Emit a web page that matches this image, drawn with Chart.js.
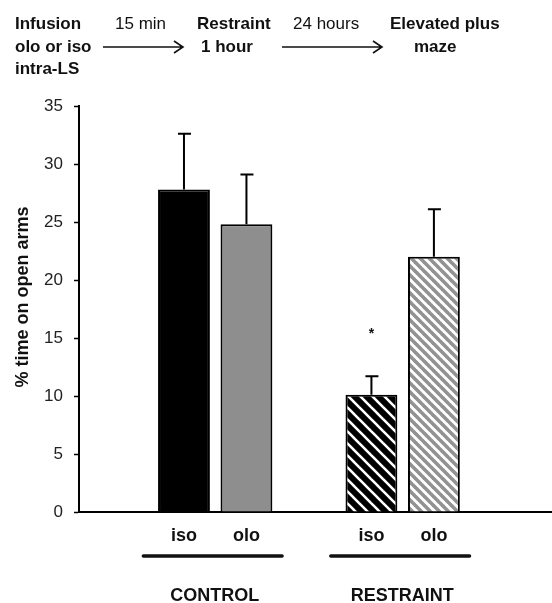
<!DOCTYPE html>
<html>
<head>
<meta charset="utf-8">
<script src="https://cdn.jsdelivr.net/npm/chart.js@4"></script>
<style>
html, body { margin: 0; padding: 0; background: #fff; }
#wrap { position: relative; width: 552px; height: 603px; }
</style>
</head>
<body>
<div id="wrap"><canvas id="canvas"></canvas></div>
<script>
// data
var labels = ['iso', 'olo', 'iso', 'olo'];
var xPos = [1, 2, 4, 5];
var means = [27.8, 24.8, 10.1, 22.0];
var sems = [4.8, 4.3, 1.6, 4.1];
var marks = ['', '', '*', ''];
var groups = ['CONTROL', 'RESTRAINT'];
var groupMembers = [[0, 1], [2, 3]];
var yTicks = [0, 5, 10, 15, 20, 25, 30, 35];

var FONT = '"Liberation Sans", Arial, sans-serif';

// diagonal "\" hatch: background colour, line colour, tile size, line width
function stripes(bg, fg, s, w) {
    var c = document.createElement('canvas');
    c.width = s; c.height = s;
    var g = c.getContext('2d');
    g.fillStyle = bg;
    g.fillRect(0, 0, s, s);
    g.strokeStyle = fg;
    g.lineWidth = w;
    for (var o = -s; o <= s; o += s) {
        g.beginPath();
        g.moveTo(o - 1, -1);
        g.lineTo(o + s + 1, s + 1);
        g.stroke();
    }
    return g.createPattern(c, 'repeat');
}

var fills = ['#000', '#8e8e8e', stripes('#000', '#fff', 12, 2.6), stripes('#fff', '#929292', 9, 3.6)];

var extras = {
    id: 'extras',
    afterDatasetsDraw: function(chart) {
        var ctx = chart.ctx;
        var x = chart.scales.x, y = chart.scales.y;
        ctx.save();
        // error bars (upper only)
        ctx.strokeStyle = '#000';
        ctx.lineWidth = 2;
        for (var i = 0; i < means.length; i++) {
            var px = x.getPixelForValue(xPos[i]);
            var y0 = y.getPixelForValue(means[i]);
            var y1 = y.getPixelForValue(means[i] + sems[i]);
            ctx.beginPath();
            ctx.moveTo(px, y0);
            ctx.lineTo(px, y1);
            ctx.moveTo(px - 6, y1);
            ctx.lineTo(px + 7, y1);
            ctx.stroke();
            if (marks[i]) {
                ctx.fillStyle = '#111';
                ctx.font = 'bold 14px ' + FONT;
                ctx.textAlign = 'center';
                ctx.textBaseline = 'middle';
                ctx.fillText(marks[i], px, y.getPixelForValue(means[i] + sems[i] + 3.6));
            }
        }
        ctx.restore();
    },
    afterDraw: function(chart) {
        var ctx = chart.ctx;
        var x = chart.scales.x;
        ctx.save();
        ctx.fillStyle = '#111';
        ctx.strokeStyle = '#111';

        // group bars and names
        ctx.lineWidth = 3.5;
        ctx.lineCap = 'round';
        ctx.textAlign = 'center';
        ctx.textBaseline = 'middle';
        ctx.font = 'bold 18px ' + FONT;
        groups.forEach(function(name, g) {
            var m = groupMembers[g];
            var a = x.getPixelForValue(xPos[m[0]] - 0.65);
            var b = x.getPixelForValue(xPos[m[m.length - 1]] + 0.57);
            ctx.beginPath();
            ctx.moveTo(a, 556);
            ctx.lineTo(b, 556);
            ctx.stroke();
            ctx.fillText(name, (a + b) / 2 + 2, 596);
        });

        // y axis title
        ctx.save();
        ctx.translate(23, 297);
        ctx.rotate(-Math.PI / 2);
        ctx.font = 'bold 18px ' + FONT;
        ctx.fillText('% time on open arms', 0, 0);
        ctx.restore();

        // protocol header
        ctx.textAlign = 'left';
        ctx.font = 'bold 17px ' + FONT;
        ctx.fillText('Infusion', 15, 24);
        ctx.fillText('olo or iso', 15, 47);
        ctx.fillText('intra-LS', 15, 69);
        ctx.fillText('Restraint', 197, 24);
        ctx.fillText('1 hour', 201, 47);
        ctx.fillText('Elevated plus', 390, 24);
        ctx.fillText('maze', 414, 47);
        ctx.font = '17px ' + FONT;
        ctx.fillText('15 min', 115, 24);
        ctx.fillText('24 hours', 293, 24);

        ctx.lineWidth = 1.6;
        ctx.lineCap = 'butt';
        [[103, 183], [282, 382]].forEach(function(s) {
            ctx.beginPath();
            ctx.moveTo(s[0], 47);
            ctx.lineTo(s[1], 47);
            ctx.moveTo(s[1] - 9, 41);
            ctx.lineTo(s[1], 47);
            ctx.lineTo(s[1] - 9, 53);
            ctx.stroke();
        });
        ctx.restore();
    }
};

var ctx = document.getElementById('canvas').getContext('2d');
var myChart = new Chart(ctx, {
    type: 'bar',
    data: {
        datasets: [{
            data: xPos.map(function(v, i) { return { x: v, y: means[i] }; }),
            backgroundColor: fills,
            borderColor: '#000',
            borderWidth: 2,
            barPercentage: 0.83,
            categoryPercentage: 1
        }]
    },
    options: {
        responsive: true,
        maintainAspectRatio: false,
        animation: false,
        layout: { padding: { top: 106, right: 0, bottom: 0, left: 0 } },
        plugins: { legend: { display: false }, tooltip: { enabled: false } },
        scales: {
            x: {
                type: 'linear',
                offset: false,
                min: -0.68,
                max: 6.89,
                afterBuildTicks: function(s) {
                    s.ticks = xPos.map(function(v) { return { value: v }; });
                },
                afterFit: function(s) { s.height = 91; },
                ticks: {
                    padding: 5,
                    color: '#111',
                    font: { family: FONT, size: 18, weight: 'bold' },
                    callback: function(v) {
                        var i = xPos.indexOf(v);
                        return i < 0 ? '' : labels[i];
                    }
                },
                grid: { display: false },
                border: { display: true, color: '#000', width: 2 }
            },
            y: {
                min: 0,
                max: 35,
                afterBuildTicks: function(s) {
                    s.ticks = yTicks.map(function(v) { return { value: v }; });
                },
                afterFit: function(s) { s.width = 79; },
                ticks: {
                    padding: 11,
                    color: '#222',
                    font: { family: FONT, size: 17 }
                },
                grid: {
                    display: true,
                    drawOnChartArea: false,
                    drawTicks: true,
                    tickLength: 5,
                    tickWidth: 1.5,
                    tickColor: '#000'
                },
                border: { display: true, color: '#000', width: 2 }
            }
        }
    },
    plugins: [extras]
});
</script>
</body>
</html>
